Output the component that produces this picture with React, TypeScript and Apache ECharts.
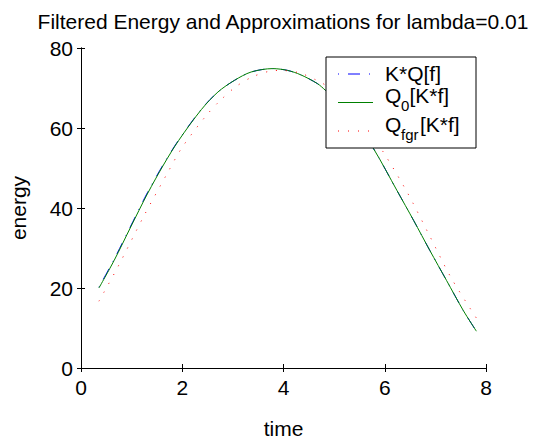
import React, { useEffect, useRef } from "react";
import * as echarts from "echarts";

const titleText = "Filtered Energy and Approximations for lambda=0.01";
const xTicks = [0, 2, 4, 6, 8];
const yTicks = [0, 20, 40, 60, 80];

// K*Q[f] (blue, dash-dot)
const blueTime = [0.354, 0.655, 0.982, 1.31, 1.64, 1.93, 2.377, 2.705, 3.03, 3.36, 3.785, 4.08, 4.34, 4.67, 4.83, 5.0, 5.25, 5.5, 5.78, 6.24, 6.57, 6.89, 7.22, 7.55, 7.81];
const blueEnergy = [20.2, 27.2, 35.5, 43.8, 51.2, 57.0, 64.7, 69.0, 71.9, 74.0, 74.85, 74.4, 73.3, 71.1, 69.4, 67.4, 63.8, 59.6, 54.8, 44.4, 36.9, 29.4, 21.9, 14.4, 9.2];

// Q_0[K*f] (green, solid)
const greenTime = [0.354, 0.655, 0.982, 1.31, 1.64, 1.93, 2.377, 2.705, 3.03, 3.36, 3.785, 4.08, 4.34, 4.67, 4.83, 5.0, 5.25, 5.5, 5.78, 6.24, 6.57, 6.89, 7.22, 7.55, 7.81];
const greenEnergy = [20.0, 26.9, 35.25, 43.5, 51.0, 56.9, 64.6, 69.0, 71.9, 74.0, 74.85, 74.4, 73.3, 71.1, 69.4, 67.4, 63.8, 59.6, 54.8, 44.4, 36.9, 29.4, 21.9, 14.4, 9.2];

// Q_fgr[K*f] (red, dotted)
const redTime = [0.354, 0.727, 1.25, 1.71, 2.0, 2.46, 2.72, 3.05, 3.38, 3.74, 3.93, 4.31, 4.66, 4.83, 5.0, 5.25, 5.5, 5.75, 5.95, 6.44, 6.88, 7.32, 7.84];
const redEnergy = [16.7, 25.25, 38.2, 48.8, 55.2, 62.9, 66.5, 70.25, 72.75, 74.25, 74.4, 73.8, 71.9, 70.7, 68.8, 65.6, 61.8, 57.6, 54.4, 44.0, 33.2, 22.35, 11.9];

const FONT = "'Liberation Sans', Arial, Helvetica, sans-serif";

function pairs(t: number[], v: number[]) {
  return t.map((x, i) => [x, v[i]]);
}

export default function App() {
  const ref = useRef<HTMLDivElement>(null);
  useEffect(() => {
    if (!ref.current) return;
    const chart = echarts.init(ref.current, null, { renderer: "svg" });
    const xMin = xTicks[0];
    const xMax = xTicks[xTicks.length - 1];
    const xInt = xTicks[1] - xTicks[0];
    const yMin = yTicks[0];
    const yMax = yTicks[yTicks.length - 1];
    const yInt = yTicks[1] - yTicks[0];
    const axisLine = { show: true, lineStyle: { color: "#000", width: 1 } };
    const labelStyle = { color: "#000", fontSize: 21, fontFamily: FONT };
    const legX = 326;
    const legY = 57;
    const txt = (text: string, x: number, y: number, size: number) => ({
      type: "text",
      x,
      y,
      style: { text, fill: "#000", fontSize: size, fontFamily: FONT, textAlign: "left", textVerticalAlign: "middle" },
      z: 101,
    });
    chart.setOption({
      animation: false,
      backgroundColor: "#fff",
      grid: { left: 79, right: 60, top: 48, bottom: 78, containLabel: false },
      xAxis: [
        {
          type: "value",
          min: xMin,
          max: xMax,
          interval: xInt,
          position: "bottom",
          name: "time",
          nameLocation: "middle",
          nameGap: 50,
          nameTextStyle: { color: "#000", fontSize: 21, fontFamily: FONT },
          axisLine,
          axisTick: { show: true, inside: true, length: 4, lineStyle: { color: "#000" } },
          axisLabel: { ...labelStyle, margin: 9 },
          splitLine: { show: false },
        },
        {
          type: "value",
          min: xMin,
          max: xMax,
          interval: xInt,
          position: "top",
          axisLine,
          axisTick: { show: true, inside: true, length: 4, lineStyle: { color: "#000" } },
          axisLabel: { show: false },
          splitLine: { show: false },
        },
      ],
      yAxis: [
        {
          type: "value",
          min: yMin,
          max: yMax,
          interval: yInt,
          position: "left",
          name: "energy",
          nameLocation: "middle",
          nameGap: 52,
          nameTextStyle: { color: "#000", fontSize: 21, fontFamily: FONT },
          axisLine,
          axisTick: { show: true, inside: true, length: 4, lineStyle: { color: "#000" } },
          axisLabel: { ...labelStyle, margin: 8 },
          splitLine: { show: false },
        },
        {
          type: "value",
          min: yMin,
          max: yMax,
          interval: yInt,
          position: "right",
          axisLine,
          axisTick: { show: true, inside: true, length: 4, lineStyle: { color: "#000" } },
          axisLabel: { show: false },
          splitLine: { show: false },
        },
      ],
      series: [
        {
          name: "K*Q[f]",
          type: "line",
          data: pairs(blueTime, blueEnergy),
          smooth: 0.3,
          symbol: "none",
          lineStyle: { color: "#0000ff", width: 1, type: [1, 8, 12, 8] },
          emphasis: { disabled: true },
          silent: true,
        },
        {
          name: "Q0[K*f]",
          type: "line",
          data: pairs(greenTime, greenEnergy),
          smooth: 0.3,
          symbol: "none",
          lineStyle: { color: "#008000", width: 1, type: "solid" },
          emphasis: { disabled: true },
          silent: true,
        },
        {
          name: "Qfgr[K*f]",
          type: "line",
          data: pairs(redTime, redEnergy),
          smooth: 0.3,
          symbol: "none",
          lineStyle: { color: "#ff0000", width: 1, type: [1, 9] },
          emphasis: { disabled: true },
          silent: true,
        },
      ],
      graphic: [
        {
          type: "text",
          x: 283,
          y: 21,
          style: { text: titleText, fill: "#000", fontSize: 21, fontFamily: FONT, textAlign: "center", textVerticalAlign: "middle" },
        },
        {
          type: "rect",
          shape: { x: legX, y: legY, width: 150, height: 91 },
          style: { fill: "#fff", stroke: "#000", lineWidth: 1 },
          z: 100,
        },
        {
          type: "line",
          shape: { x1: 338, y1: 74, x2: 372, y2: 74 },
          style: { stroke: "#0000ff", lineWidth: 1, lineDash: [1, 9, 12, 9] },
          z: 101,
        },
        {
          type: "line",
          shape: { x1: 338, y1: 102.5, x2: 373, y2: 102.5 },
          style: { stroke: "#008000", lineWidth: 1 },
          z: 101,
        },
        {
          type: "line",
          shape: { x1: 338, y1: 131, x2: 372, y2: 131 },
          style: { stroke: "#ff0000", lineWidth: 1, lineDash: [1, 9] },
          z: 101,
        },
        txt("K*Q[f]", 385, 73, 21),
        txt("Q", 385, 95, 21),
        txt("0", 401, 105, 15),
        txt("[K*f]", 409.5, 95, 21),
        txt("Q", 385, 124, 21),
        txt("fgr", 401, 134, 15),
        txt("[K*f]", 420, 124, 21),
      ],
    });
    return () => chart.dispose();
  }, []);
  return (
    <div
      ref={ref}
      style={{ position: "fixed", left: 0, top: 0, width: 546, height: 446, background: "#fff" }}
    />
  );
}
